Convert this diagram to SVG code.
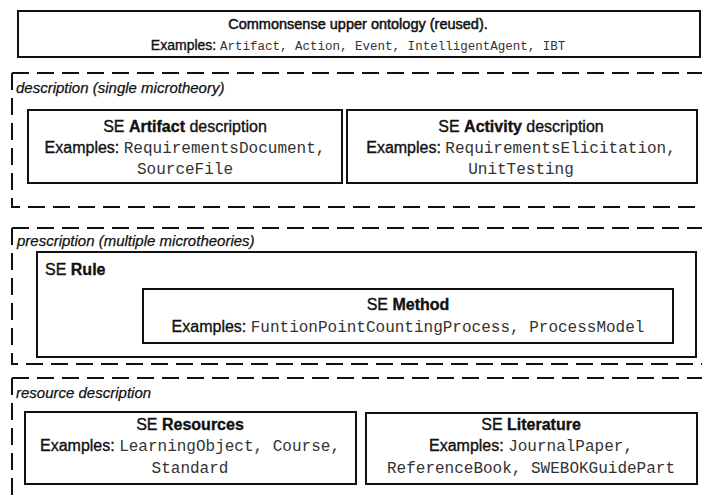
<svg xmlns="http://www.w3.org/2000/svg" width="706" height="496" viewBox="0 0 706 496">
<style>
  .box { fill: none; stroke: #111; stroke-width: 2; }
  .dash { fill: none; stroke: #111; stroke-width: 2; stroke-dasharray: 17 8; }
  .t { font-family: "Liberation Sans", Arial, sans-serif; font-size: 16px; fill: #111; stroke: #111; stroke-width: 0.35; }
  .b { font-weight: bold; }
  .m { font-family: "Liberation Mono", "Courier New", monospace; font-size: 16px; fill: #333; stroke: none; }
  .lab { font-family: "Liberation Sans", Arial, sans-serif; font-size: 15px; font-style: italic; fill: #111; stroke: #111; stroke-width: 0.25; }
  .c { text-anchor: middle; }
</style>
<rect width="706" height="496" fill="#fff"/>

<g id="sections">
  <path class="dash" d="M12,73 H702"/>
  <path class="dash" d="M12,73 V207 H702"/>
  <text class="lab" x="16" y="93">description (single microtheory)</text>
  <path class="dash" d="M12,228 H702"/>
  <path class="dash" d="M12,228 V364 H702"/>
  <text class="lab" x="17" y="246">prescription (multiple microtheories)</text>
  <path class="dash" d="M12,378 H702"/>
  <path class="dash" d="M12,378 V496"/>
  <text class="lab" x="16" y="398">resource description</text>
</g>

<g id="upper">
  <rect class="box" x="18" y="11" width="682" height="46"/>
  <text class="t c" x="358" y="29" style="font-size:14.5px;stroke-width:0.5">Commonsense upper ontology (reused).</text>
  <text class="t c" x="358" y="50" style="font-size:14px">Examples: <tspan class="m" style="font-size:12.5px">Artifact, Action, Event, IntelligentAgent, IBT</tspan></text>
</g>

<g id="artifact">
  <rect class="box" x="28" y="110" width="314" height="73"/>
  <text class="t c" x="185" y="132">SE <tspan class="b">Artifact</tspan> description</text>
  <text class="t c" x="185" y="153">Examples: <tspan class="m">RequirementsDocument,</tspan></text>
  <text class="m c" x="185" y="174">SourceFile</text>
</g>

<g id="activity">
  <rect class="box" x="347" y="110" width="350" height="73"/>
  <text class="t c" x="521" y="132">SE <tspan class="b">Activity</tspan> description</text>
  <text class="t c" x="521" y="153">Examples: <tspan class="m">RequirementsElicitation,</tspan></text>
  <text class="m c" x="521" y="174">UnitTesting</text>
</g>

<g id="rule">
  <rect class="box" x="37" y="252" width="659" height="105"/>
  <text class="t" x="45" y="275">SE <tspan class="b">Rule</tspan></text>
</g>

<g id="method">
  <rect class="box" x="143" y="289" width="530" height="54"/>
  <text class="t c" x="408" y="310">SE <tspan class="b">Method</tspan></text>
  <text class="t c" x="408" y="332">Examples: <tspan class="m">FuntionPointCountingProcess, ProcessModel</tspan></text>
</g>

<g id="resources">
  <rect class="box" x="25" y="412" width="331" height="72"/>
  <text class="t c" x="190" y="430">SE <tspan class="b">Resources</tspan></text>
  <text class="t c" x="190" y="451">Examples: <tspan class="m">LearningObject, Course,</tspan></text>
  <text class="m c" x="190" y="473">Standard</text>
</g>

<g id="literature">
  <rect class="box" x="366" y="413" width="331" height="71"/>
  <text class="t c" x="531" y="430">SE <tspan class="b">Literature</tspan></text>
  <text class="t c" x="531" y="451">Examples: <tspan class="m">JournalPaper,</tspan></text>
  <text class="m c" x="531" y="473">ReferenceBook, SWEBOKGuidePart</text>
</g>
</svg>
